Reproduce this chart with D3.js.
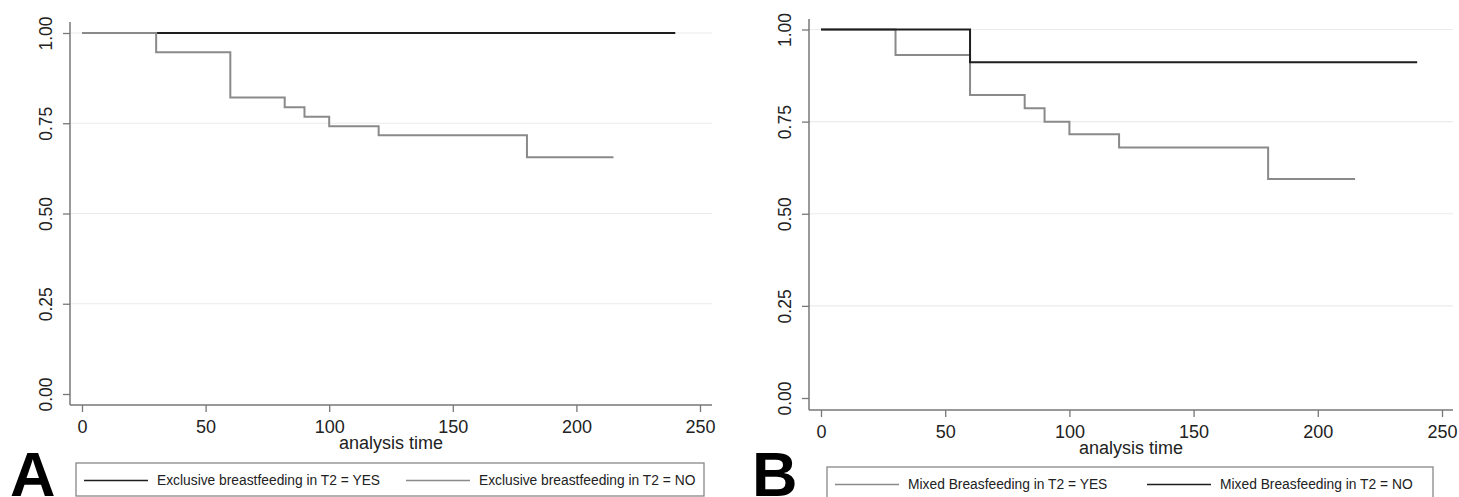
<!DOCTYPE html>
<html>
<head>
<meta charset="utf-8">
<script src="https://cdn.jsdelivr.net/npm/d3@7"></script>
<style>
  body { margin: 0; background: #fff; }
  svg { display: block; font-family: "Liberation Sans", Arial, sans-serif; }
</style>
</head>
<body>
<svg id="chart" width="1459" height="497"></svg>
<script>
// Kaplan-Meier step data
const ebfYesTime = [0, 240];
const ebfYesSurv = [1, 1];
const ebfNoTime = [0, 30, 60, 82, 90, 100, 120, 180, 215];
const ebfNoSurv = [1, 0.947, 0.821, 0.794, 0.768, 0.742, 0.717, 0.656, 0.656];

const mbfYesTime = [0, 30, 60, 82, 90, 100, 120, 180, 215];
const mbfYesSurv = [1, 0.931, 0.822, 0.786, 0.750, 0.716, 0.680, 0.594, 0.594];
const mbfNoTime = [0, 60, 240];
const mbfNoSurv = [1, 0.911, 0.911];

const xTicks = [0, 50, 100, 150, 200, 250];
const yTicks = [0, 0.25, 0.5, 0.75, 1];

const BLACK = '#1e1e1e';
const GREY = '#8a8a8a';
const AXIS = '#777';

const svg = d3.select('#chart');

function zip(t, s) {
  return t.map((d, i) => ({ t: d, s: s[i] }));
}

const panels = [
  {
    letter: 'A', letterX: 10,
    xRange: [82, 700], yRange: [394, 33],
    axisX: 70, axisY: 405, axisTop: 22, axisRight: 712,
    series: [
      { data: zip(ebfYesTime, ebfYesSurv), color: BLACK, name: 'Exclusive breastfeeding in T2 = YES' },
      { data: zip(ebfNoTime, ebfNoSurv), color: GREY, name: 'Exclusive breastfeeding in T2 = NO' }
    ],
    legend: { x: 76, y: 463, w: 628, h: 33, items: [84, 406] }
  },
  {
    letter: 'B', letterX: 752,
    xRange: [821, 1442], yRange: [398, 29.5],
    axisX: 809, axisY: 410, axisTop: 19, axisRight: 1453,
    series: [
      { data: zip(mbfYesTime, mbfYesSurv), color: GREY, name: 'Mixed Breasfeeding in T2 = YES' },
      { data: zip(mbfNoTime, mbfNoSurv), color: BLACK, name: 'Mixed Breasfeeding in T2 = NO' }
    ],
    legend: { x: 827, y: 467, w: 606, h: 34, items: [835, 1147] }
  }
];

panels.forEach(p => {
  const x = d3.scaleLinear().domain([0, 250]).range(p.xRange);
  const y = d3.scaleLinear().domain([0, 1]).range(p.yRange);
  const g = svg.append('g');

  // gridlines
  g.selectAll('line.grid')
    .data(yTicks.filter(d => d > 0))
    .enter()
    .append('line')
    .attr('class', 'grid')
    .attr('x1', p.axisX)
    .attr('x2', p.axisRight)
    .attr('y1', d => y(d))
    .attr('y2', d => y(d))
    .attr('stroke', '#ebebeb')
    .attr('stroke-width', 1.2);

  // y axis
  const yAxis = g.append('g')
    .attr('transform', `translate(${p.axisX},0)`)
    .call(d3.axisLeft(y).tickValues(yTicks).tickFormat(d3.format('.2f')).tickSize(7));
  yAxis.select('.domain').remove();
  yAxis.selectAll('.tick line').attr('stroke', AXIS).attr('stroke-width', 1.3);
  yAxis.selectAll('.tick text')
    .attr('x', 0).attr('y', 0).attr('dy', '0.36em')
    .attr('transform', 'translate(-24,0) rotate(-90)')
    .attr('text-anchor', 'middle')
    .attr('fill', '#222')
    .style('font-size', '17.5px');
  g.append('line')
    .attr('x1', p.axisX).attr('x2', p.axisX)
    .attr('y1', p.axisTop).attr('y2', p.axisY)
    .attr('stroke', AXIS).attr('stroke-width', 1.5);

  // x axis
  const xAxis = g.append('g')
    .attr('transform', `translate(0,${p.axisY})`)
    .call(d3.axisBottom(x).tickValues(xTicks).tickSize(7));
  xAxis.select('.domain').remove();
  xAxis.selectAll('.tick line').attr('stroke', AXIS).attr('stroke-width', 1.3);
  xAxis.selectAll('.tick text')
    .attr('y', 22).attr('dy', '0.35em')
    .attr('fill', '#222')
    .style('font-size', '18px');
  g.append('line')
    .attr('x1', p.axisX).attr('x2', p.axisRight)
    .attr('y1', p.axisY).attr('y2', p.axisY)
    .attr('stroke', AXIS).attr('stroke-width', 1.5);

  g.append('text')
    .attr('x', (p.axisX + p.axisRight) / 2)
    .attr('y', p.axisY + 38)
    .attr('dy', '0.35em')
    .attr('text-anchor', 'middle')
    .attr('fill', '#222')
    .style('font-size', '18px')
    .text('analysis time');

  // survival curves, later series on top
  const line = d3.line()
    .x(d => x(d.t))
    .y(d => y(d.s))
    .curve(d3.curveStepAfter);

  g.selectAll('path.km')
    .data(p.series)
    .enter()
    .append('path')
    .attr('class', 'km')
    .attr('d', s => line(s.data))
    .attr('fill', 'none')
    .attr('stroke', s => s.color)
    .attr('stroke-width', 2);

  // legend
  const lg = p.legend;
  g.append('rect')
    .attr('x', lg.x).attr('y', lg.y)
    .attr('width', lg.w).attr('height', lg.h)
    .attr('fill', '#fff')
    .attr('stroke', '#888')
    .attr('stroke-width', 1.3);
  const cy = lg.y + 17.5;
  p.series.forEach((s, i) => {
    const lx = lg.items[i];
    g.append('line')
      .attr('x1', lx).attr('x2', lx + 64)
      .attr('y1', cy).attr('y2', cy)
      .attr('stroke', s.color)
      .attr('stroke-width', 1.6);
    g.append('text')
      .attr('x', lx + 73)
      .attr('y', cy)
      .attr('dy', '0.35em')
      .attr('fill', '#222')
      .style('font-size', '13.8px')
      .text(s.name);
  });

  // panel letter (sits on the bottom edge, as in the figure)
  svg.append('text')
    .attr('x', p.letterX)
    .attr('y', 496)
    .attr('fill', '#000')
    .style('font-size', '63px')
    .style('font-weight', 'bold')
    .text(p.letter);
});
</script>
</body>
</html>
